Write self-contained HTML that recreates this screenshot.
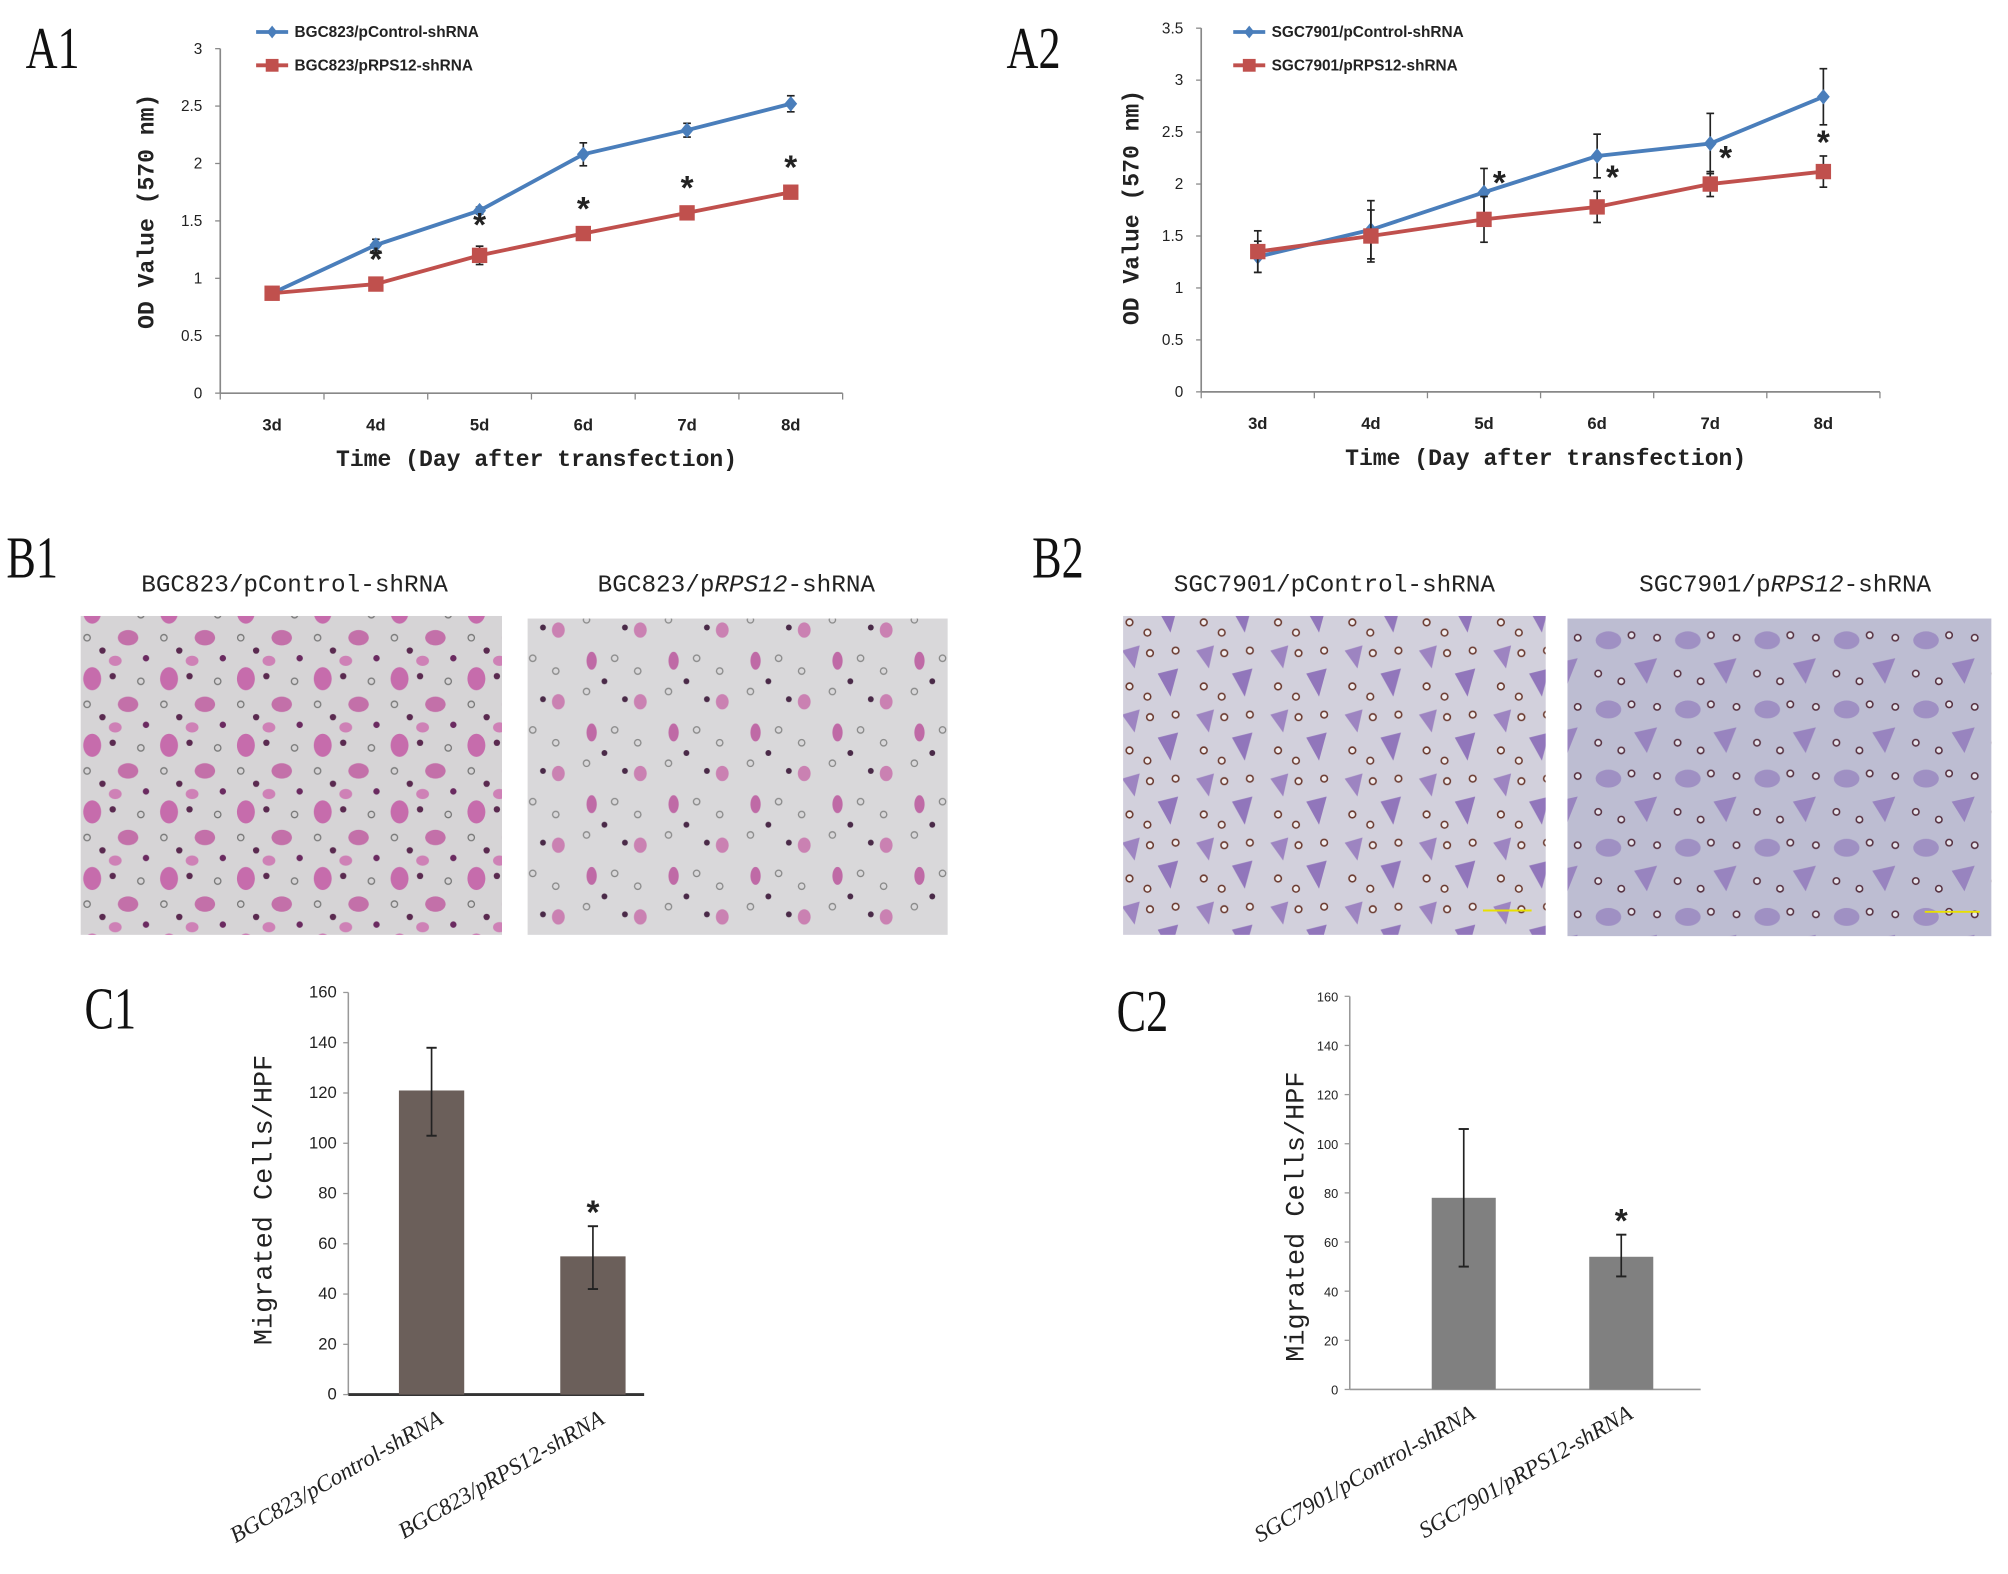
<!DOCTYPE html>
<html><head><meta charset="utf-8"><style>
html,body{margin:0;padding:0;background:#fff;}
svg{display:block;}
</style></head><body>
<svg id="fig" xmlns="http://www.w3.org/2000/svg" width="2008" height="1574" viewBox="0 0 1568 1229.1">
<defs>
  <pattern id="patB1a" width="60" height="52" patternUnits="userSpaceOnUse">
    <rect width="60" height="52" fill="#d6d4d6"/>
    <ellipse cx="12" cy="10" rx="7" ry="9" fill="#c0409a" opacity="0.7"/>
    <ellipse cx="40" cy="30" rx="8" ry="6" fill="#b83a90" opacity="0.65"/>
    <circle cx="28" cy="8" r="2.5" fill="#5a2a50"/>
    <circle cx="50" cy="12" r="2.5" fill="none" stroke="#777" stroke-width="1"/>
    <circle cx="20" cy="40" r="2.5" fill="#5a2a50"/>
    <circle cx="8" cy="30" r="2.5" fill="none" stroke="#777" stroke-width="1"/>
    <circle cx="54" cy="46" r="2.5" fill="#6a2a60"/>
    <ellipse cx="30" cy="48" rx="5" ry="4" fill="#c84aa0" opacity="0.6"/>
  </pattern>
  <pattern id="patB1b" width="64" height="56" patternUnits="userSpaceOnUse">
    <rect width="64" height="56" fill="#d9d8da"/>
    <ellipse cx="14" cy="12" rx="4" ry="7" fill="#b43c90" opacity="0.7"/>
    <circle cx="32" cy="10" r="2.5" fill="none" stroke="#888" stroke-width="1"/>
    <circle cx="50" cy="20" r="2.5" fill="none" stroke="#888" stroke-width="1"/>
    <circle cx="10" cy="36" r="2.5" fill="none" stroke="#888" stroke-width="1"/>
    <circle cx="40" cy="42" r="2.3" fill="#4a2a48"/>
    <ellipse cx="52" cy="44" rx="5" ry="6" fill="#c04898" opacity="0.6"/>
    <circle cx="24" cy="28" r="2.3" fill="#4a2a48"/>
  </pattern>
  <pattern id="patB2a" width="58" height="50" patternUnits="userSpaceOnUse">
    <rect width="58" height="50" fill="#d2d0dc"/>
    <path d="M6 8 L20 4 L16 22 Z" fill="#8b6ab8" opacity="0.75"/>
    <path d="M34 26 L50 22 L44 44 Z" fill="#7a58b0" opacity="0.75"/>
    <circle cx="28" cy="10" r="2.6" fill="#f2eef0" stroke="#6a3a30" stroke-width="1.2"/>
    <circle cx="48" cy="8" r="2.6" fill="#f2eef0" stroke="#6a3a30" stroke-width="1.2"/>
    <circle cx="12" cy="36" r="2.6" fill="#f2eef0" stroke="#6a3a30" stroke-width="1.2"/>
    <circle cx="26" cy="44" r="2.6" fill="#f2eef0" stroke="#6a3a30" stroke-width="1.2"/>
  </pattern>
  <pattern id="patB2b" width="62" height="54" patternUnits="userSpaceOnUse">
    <rect width="62" height="54" fill="#bdbdd2"/>
    <ellipse cx="16" cy="14" rx="10" ry="7" fill="#8f78bc" opacity="0.65"/>
    <path d="M36 32 L54 28 L46 48 Z" fill="#8466b6" opacity="0.65"/>
    <circle cx="34" cy="10" r="2.5" fill="#e8e6ee" stroke="#553040" stroke-width="1.2"/>
    <circle cx="8" cy="40" r="2.5" fill="#e8e6ee" stroke="#553040" stroke-width="1.2"/>
    <circle cx="54" cy="12" r="2.5" fill="#e8e6ee" stroke="#553040" stroke-width="1.2"/>
    <circle cx="26" cy="46" r="2.5" fill="#e8e6ee" stroke="#553040" stroke-width="1.2"/>
  </pattern>
</defs>

<g font-family="'Liberation Serif', serif" fill="#111">
  <text x="20" y="53" font-size="46" transform="translate(20,53) scale(0.75,1) translate(-20,-53)">A1</text>
  <text x="786" y="53" font-size="46" transform="translate(786,53) scale(0.75,1) translate(-786,-53)">A2</text>
  <text x="5" y="451" font-size="46" transform="translate(5,451) scale(0.75,1) translate(-5,-451)">B1</text>
  <text x="806" y="451" font-size="46" transform="translate(806,451) scale(0.75,1) translate(-806,-451)">B2</text>
  <text x="66" y="803" font-size="46" transform="translate(66,803) scale(0.75,1) translate(-66,-803)">C1</text>
  <text x="872" y="805" font-size="46" transform="translate(872,805) scale(0.75,1) translate(-872,-805)">C2</text>
</g>

<g font-family="'Liberation Mono', monospace" font-size="19" fill="#222" text-anchor="middle">
  <text x="230" y="462">BGC823/pControl-shRNA</text>
  <text x="575" y="462">BGC823/p<tspan font-style="italic">RPS12</tspan>-shRNA</text>
  <text x="1042" y="462">SGC7901/pControl-shRNA</text>
  <text x="1394" y="462">SGC7901/p<tspan font-style="italic">RPS12</tspan>-shRNA</text>
</g>
<rect x="63" y="481" width="329" height="249" fill="url(#patB1a)"/>
<rect x="412" y="483" width="328" height="247" fill="url(#patB1b)"/>
<rect x="877" y="481" width="330" height="249" fill="url(#patB2a)"/>
<rect x="1224" y="483" width="331" height="248" fill="url(#patB2b)"/>
<line x1="1158" y1="711" x2="1196" y2="711" stroke="#e8e000" stroke-width="1.5"/>
<line x1="1503" y1="712" x2="1546" y2="712" stroke="#e8e000" stroke-width="1.5"/>

<g id="charts"></g>
</svg>
<script>
// ---- A1 data ----
const a1Categories = ["3d","4d","5d","6d","7d","8d"];
const a1Control = [0.87,1.29,1.59,2.08,2.29,2.52];
const a1ControlErr = [0.03,0.05,0.03,0.10,0.06,0.07];
const a1Rps12 = [0.87,0.95,1.20,1.39,1.57,1.75];
const a1Rps12Err = [0.02,0.03,0.08,0.03,0.03,0.03];
const a1Ticks = ["0","0.5","1","1.5","2","2.5","3"];
const a1TickVals = [0,0.5,1,1.5,2,2.5,3];
const a1Stars = [false,true,true,true,true,true];
// ---- A2 data ----
const a2Categories = ["3d","4d","5d","6d","7d","8d"];
const a2Control = [1.30,1.56,1.92,2.27,2.39,2.84];
const a2ControlErr = [0.15,0.28,0.23,0.21,0.29,0.27];
const a2Rps12 = [1.35,1.50,1.66,1.78,2.00,2.12];
const a2Rps12Err = [0.20,0.25,0.22,0.15,0.12,0.15];
const a2Ticks = ["0","0.5","1","1.5","2","2.5","3","3.5"];
const a2TickVals = [0,0.5,1,1.5,2,2.5,3,3.5];
const a2Stars = [false,false,true,true,true,true];
// ---- C1 data ----
const c1Categories = ["BGC823/pControl-shRNA","BGC823/pRPS12-shRNA"];
const c1Values = [121,55];
const c1ErrLow = [103,42];
const c1ErrHigh = [138,67];
const c1Ticks = ["0","20","40","60","80","100","120","140","160"];
const c1TickVals = [0,20,40,60,80,100,120,140,160];
// ---- C2 data ----
const c2Categories = ["SGC7901/pControl-shRNA","SGC7901/pRPS12-shRNA"];
const c2Values = [78,54];
const c2ErrLow = [50,46];
const c2ErrHigh = [106,63];
const c2Ticks = ["0","20","40","60","80","100","120","140","160"];
const c2TickVals = [0,20,40,60,80,100,120,140,160];

const NS = "http://www.w3.org/2000/svg";
const root = document.getElementById("charts");
function mk(tag, attrs, parent){
  const e = document.createElementNS(NS, tag);
  for (const k in attrs) e.setAttribute(k, attrs[k]);
  (parent||root).appendChild(e);
  return e;
}
function txt(parent, x, y, s, size, extra){
  const t = mk("text", Object.assign({x:x,y:y,"font-size":size,"font-family":"'Liberation Sans', sans-serif",fill:"#222"}, extra||{}), parent);
  t.textContent = s;
  return t;
}

function lineChart(cfg){
  const g = mk("g", {});
  
  
  const yS = v => cfg.y0 + (cfg.yTop - cfg.y0) * v / cfg.yMax;
  const n = cfg.cats.length;
  const step = (cfg.xR - cfg.xL) / n;
  const xS = i => cfg.xL + step * (i + 0.5);
  const ya = mk("line", {x1:cfg.xL,y1:cfg.yTop,x2:cfg.xL,y2:cfg.y0,stroke:"#888","stroke-width":1.3}, g);
  
  
  const xa = mk("line", {x1:cfg.xL,y1:cfg.y0,x2:cfg.xR,y2:cfg.y0,stroke:"#888","stroke-width":1.3}, g);
  
  
  cfg.tickVals.forEach((v,i)=>{
    mk("line",{x1:cfg.xL-4,y1:yS(v),x2:cfg.xL,y2:yS(v),stroke:"#888"},g);
    const t = txt(g, cfg.xL-14, yS(v)+4, cfg.ticks[i], 12, {"text-anchor":"end"});
    
    
  });
  for (let i=0;i<=n;i++) mk("line",{x1:cfg.xL+step*i,y1:cfg.y0,x2:cfg.xL+step*i,y2:cfg.y0+5,stroke:"#888"},g);
  cfg.cats.forEach((c,i)=>{
    const t = txt(g, xS(i), cfg.y0+29, c, 13, {"text-anchor":"middle","font-weight":"bold"});
    
    
  });
  const xt = txt(g, (cfg.xL+cfg.xR)/2+4, cfg.y0+57, "Time (Day after transfection)", 18, {"text-anchor":"middle","font-weight":"bold","font-family":"'Liberation Mono', monospace"});
  
  
  const yt = txt(g, 0, 0, "OD Value (570 nm)", 18, {"text-anchor":"middle","font-weight":"bold","font-family":"'Liberation Mono', monospace","transform":`translate(${cfg.yTitleX},${cfg.yTitleY}) rotate(-90)`});
  
  
  const series = [
    {vals:cfg.control, err:cfg.controlErr, color:"#4a7ebb", marker:"diamond", name:"control"},
    {vals:cfg.rps, err:cfg.rpsErr, color:"#c0504d", marker:"square", name:"rps12"}
  ];
  series.forEach(s=>{
    const sg = mk("g",{},g);
    
    
    s.vals.forEach((v,i)=>{
      const x=xS(i), hi=yS(v+s.err[i]), lo=yS(v-s.err[i]);
      mk("line",{x1:x,y1:hi,x2:x,y2:lo,stroke:"#222","stroke-width":1.3},sg);
      mk("line",{x1:x-3,y1:hi,x2:x+3,y2:hi,stroke:"#222","stroke-width":1.3},sg);
      mk("line",{x1:x-3,y1:lo,x2:x+3,y2:lo,stroke:"#222","stroke-width":1.3},sg);
    });
    const pts = s.vals.map((v,i)=>xS(i)+","+yS(v)).join(" ");
    const pl = mk("polyline",{points:pts,fill:"none",stroke:s.color,"stroke-width":3},sg);
    
    
    s.vals.forEach((v,i)=>{
      const x=xS(i), y=yS(v);
      let m;
      if (s.marker==="diamond") m = mk("polygon",{points:`${x},${y-6} ${x+5},${y} ${x},${y+6} ${x-5},${y}`,fill:s.color},sg);
      else m = mk("rect",{x:x-6,y:y-6,width:12,height:12,fill:s.color},sg);
      
      
    });
  });
  cfg.stars.forEach((st,i)=>{
    if(!st) return;
    const v = cfg.rps[i];
    const up = cfg.rpsErr[i];
    const x = xS(i) + cfg.starDx[i];
    const y = yS(v + up) - 6;
    const t = txt(g, x, y+cfg.starDy, "*", 26, {"text-anchor":"middle","font-weight":"bold"});
    
    
  });
  const lg = mk("g",{},g);
  
  
  series.forEach((s,k)=>{
    const ly = cfg.legY + k*26;
    mk("line",{x1:cfg.legX,y1:ly,x2:cfg.legX+25,y2:ly,stroke:s.color,"stroke-width":3},lg);
    const mx = cfg.legX+12.5;
    if (s.marker==="diamond") mk("polygon",{points:`${mx},${ly-5} ${mx+4},${ly} ${mx},${ly+5} ${mx-4},${ly}`,fill:s.color},lg);
    else mk("rect",{x:mx-5,y:ly-5,width:10,height:10,fill:s.color},lg);
    const t = txt(lg, cfg.legX+30, ly+4, cfg.legendLabels[k], 12, {"font-weight":"bold"});
    
    
  });
}

lineChart({name:"chart-a1", cats:a1Categories, control:a1Control, controlErr:a1ControlErr, rps:a1Rps12, rpsErr:a1Rps12Err,
  ticks:a1Ticks, tickVals:a1TickVals, yMax:3, xL:172, xR:658, y0:307, yTop:38, stars:a1Stars,
  starDx:[0,0,0,0,0,0], starDy:-2, yTitleX:120, yTitleY:165, legX:200, legY:25,
  legendLabels:["BGC823/pControl-shRNA","BGC823/pRPS12-shRNA"]});
lineChart({name:"chart-a2", cats:a2Categories, control:a2Control, controlErr:a2ControlErr, rps:a2Rps12, rpsErr:a2Rps12Err,
  ticks:a2Ticks, tickVals:a2TickVals, yMax:3.5, xL:938, xR:1468, y0:306, yTop:22, stars:a2Stars,
  starDx:[0,0,12,12,12,0], starDy:4, yTitleX:889, yTitleY:162, legX:963, legY:25,
  legendLabels:["SGC7901/pControl-shRNA","SGC7901/pRPS12-shRNA"]});

function barChart(cfg){
  const g = mk("g", {});
  
  
  const yS = v => cfg.y0 + (cfg.yTop - cfg.y0) * v / cfg.yMax;
  const xS = i => cfg.xL + cfg.firstOff + cfg.gap * i;
  const ya = mk("line",{x1:cfg.xL,y1:cfg.yTop,x2:cfg.xL,y2:cfg.y0,stroke:"#999","stroke-width":1.2},g);
  
  
  const xa = mk("line",{x1:cfg.xL,y1:cfg.y0,x2:cfg.xR,y2:cfg.y0,stroke:cfg.xAxisColor,"stroke-width":cfg.xAxisW},g);
  
  
  cfg.tickVals.forEach((v,i)=>{
    mk("line",{x1:cfg.xL-4,y1:yS(v),x2:cfg.xL,y2:yS(v),stroke:"#999"},g);
    const t = txt(g, cfg.xL-9, yS(v)+4, cfg.ticks[i], cfg.tickSize, {"text-anchor":"end"});
    
    
  });
  const yt = txt(g, 0, 0, "Migrated Cells/HPF", 21, {"text-anchor":"middle","font-family":"'Liberation Mono', monospace","transform":`translate(${cfg.yTitleX},${cfg.yTitleY}) rotate(-90)`});
  
  
  cfg.values.forEach((v,i)=>{
    const x = xS(i);
    const b = mk("rect",{x:x-cfg.barW/2,y:yS(v),width:cfg.barW,height:cfg.y0-yS(v),fill:cfg.color},g);
    
    
    const hi=yS(cfg.errHigh[i]), lo=yS(cfg.errLow[i]);
    mk("line",{x1:x,y1:hi,x2:x,y2:lo,stroke:"#222","stroke-width":1.3},g);
    mk("line",{x1:x-4,y1:hi,x2:x+4,y2:hi,stroke:"#222","stroke-width":1.5},g);
    mk("line",{x1:x-4,y1:lo,x2:x+4,y2:lo,stroke:"#222","stroke-width":1.5},g);
    if (i===1){
      const s = txt(g, x, hi-2, "*", 26, {"text-anchor":"middle","font-weight":"bold"});
      
      
    }
    const lab = cfg.cats[i];
    const t = txt(g, 0, 0, "", 18, {"text-anchor":"end","font-family":"'Liberation Serif', serif","font-style":"italic","transform":`translate(${x+10},${cfg.y0+22}) rotate(-30)`});
    const parts = lab.split("RPS12");
    if (parts.length>1){ t.textContent = parts[0]; const ts=mk("tspan",{},t); ts.textContent="RPS12"; const ts2=mk("tspan",{},t); ts2.textContent=parts[1]; }
    else t.textContent = lab;
    
    
  });
}

barChart({name:"chart-c1", cats:c1Categories, values:c1Values, errLow:c1ErrLow, errHigh:c1ErrHigh, ticks:c1Ticks, tickVals:c1TickVals,
  yMax:160, xL:272, xR:503, firstOff:65, gap:126, y0:1089, yTop:775, barW:51, color:"#6b5f5a", yTitleX:212, yTitleY:937, tickSize:13, xAxisColor:"#333", xAxisW:2.2});
barChart({name:"chart-c2", cats:c2Categories, values:c2Values, errLow:c2ErrLow, errHigh:c2ErrHigh, ticks:c2Ticks, tickVals:c2TickVals,
  yMax:160, xL:1054, xR:1328, firstOff:89, gap:123, y0:1085, yTop:778, barW:50, color:"#808080", yTitleX:1018, yTitleY:950, tickSize:10, xAxisColor:"#999", xAxisW:1.3});
</script>
</body></html>
